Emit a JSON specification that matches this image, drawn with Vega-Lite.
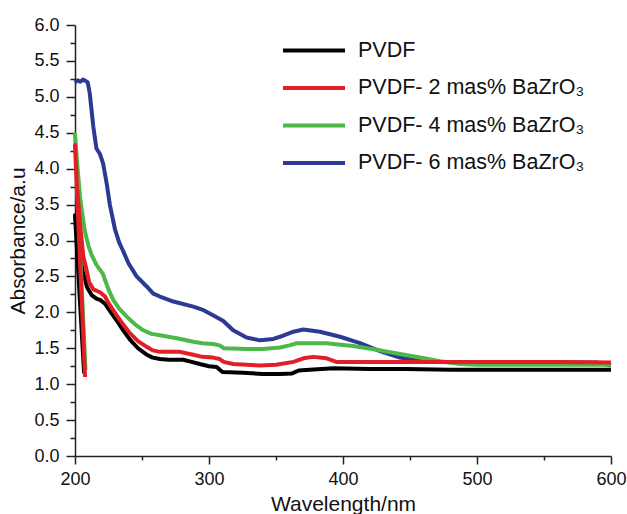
{
  "$schema": "https://vega.github.io/schema/vega-lite/v6.json",
  "width": 536,
  "height": 431,
  "autosize": {"type": "none"},
  "padding": {"left": 75, "top": 25, "right": 16, "bottom": 58},
  "background": "white",
  "config": {"view": {"stroke": null}, "font": "Liberation Sans"},
  "datasets": {
    "spectra": [
      {"sample": "PVDF", "wavelength": 206.8, "absorbance": 1.15},
      {"sample": "PVDF", "wavelength": 200, "absorbance": 3.35},
      {"sample": "PVDF", "wavelength": 203, "absorbance": 2.85},
      {"sample": "PVDF", "wavelength": 206, "absorbance": 2.55},
      {"sample": "PVDF", "wavelength": 209, "absorbance": 2.35},
      {"sample": "PVDF", "wavelength": 212.4, "absorbance": 2.24},
      {"sample": "PVDF", "wavelength": 216, "absorbance": 2.19},
      {"sample": "PVDF", "wavelength": 219, "absorbance": 2.17},
      {"sample": "PVDF", "wavelength": 222.4, "absorbance": 2.12},
      {"sample": "PVDF", "wavelength": 226, "absorbance": 2.02},
      {"sample": "PVDF", "wavelength": 231, "absorbance": 1.89},
      {"sample": "PVDF", "wavelength": 236, "absorbance": 1.75},
      {"sample": "PVDF", "wavelength": 241, "absorbance": 1.62},
      {"sample": "PVDF", "wavelength": 247, "absorbance": 1.5},
      {"sample": "PVDF", "wavelength": 253.5, "absorbance": 1.41},
      {"sample": "PVDF", "wavelength": 258, "absorbance": 1.37},
      {"sample": "PVDF", "wavelength": 263.4, "absorbance": 1.35},
      {"sample": "PVDF", "wavelength": 270, "absorbance": 1.34},
      {"sample": "PVDF", "wavelength": 280.8, "absorbance": 1.34},
      {"sample": "PVDF", "wavelength": 287, "absorbance": 1.31},
      {"sample": "PVDF", "wavelength": 293, "absorbance": 1.28},
      {"sample": "PVDF", "wavelength": 300, "absorbance": 1.25},
      {"sample": "PVDF", "wavelength": 305.7, "absorbance": 1.24},
      {"sample": "PVDF", "wavelength": 308, "absorbance": 1.2},
      {"sample": "PVDF", "wavelength": 310, "absorbance": 1.17},
      {"sample": "PVDF", "wavelength": 325.6, "absorbance": 1.16},
      {"sample": "PVDF", "wavelength": 340, "absorbance": 1.14},
      {"sample": "PVDF", "wavelength": 353, "absorbance": 1.14},
      {"sample": "PVDF", "wavelength": 362, "absorbance": 1.15},
      {"sample": "PVDF", "wavelength": 367, "absorbance": 1.19},
      {"sample": "PVDF", "wavelength": 375, "absorbance": 1.2},
      {"sample": "PVDF", "wavelength": 393, "absorbance": 1.22},
      {"sample": "PVDF", "wavelength": 420, "absorbance": 1.21},
      {"sample": "PVDF", "wavelength": 447, "absorbance": 1.21},
      {"sample": "PVDF", "wavelength": 480, "absorbance": 1.2},
      {"sample": "PVDF", "wavelength": 525, "absorbance": 1.2},
      {"sample": "PVDF", "wavelength": 600, "absorbance": 1.2},

      {"sample": "PVDF- 6 mas% BaZrO₃", "wavelength": 200, "absorbance": 5.2},
      {"sample": "PVDF- 6 mas% BaZrO₃", "wavelength": 202, "absorbance": 5.23},
      {"sample": "PVDF- 6 mas% BaZrO₃", "wavelength": 204, "absorbance": 5.21},
      {"sample": "PVDF- 6 mas% BaZrO₃", "wavelength": 206, "absorbance": 5.24},
      {"sample": "PVDF- 6 mas% BaZrO₃", "wavelength": 208, "absorbance": 5.22},
      {"sample": "PVDF- 6 mas% BaZrO₃", "wavelength": 209.5, "absorbance": 5.2},
      {"sample": "PVDF- 6 mas% BaZrO₃", "wavelength": 211, "absorbance": 5.05},
      {"sample": "PVDF- 6 mas% BaZrO₃", "wavelength": 213.7, "absorbance": 4.58},
      {"sample": "PVDF- 6 mas% BaZrO₃", "wavelength": 216, "absorbance": 4.28},
      {"sample": "PVDF- 6 mas% BaZrO₃", "wavelength": 218.7, "absorbance": 4.2},
      {"sample": "PVDF- 6 mas% BaZrO₃", "wavelength": 221, "absorbance": 4.07},
      {"sample": "PVDF- 6 mas% BaZrO₃", "wavelength": 223.6, "absorbance": 3.8},
      {"sample": "PVDF- 6 mas% BaZrO₃", "wavelength": 226, "absorbance": 3.5},
      {"sample": "PVDF- 6 mas% BaZrO₃", "wavelength": 229.9, "absorbance": 3.15},
      {"sample": "PVDF- 6 mas% BaZrO₃", "wavelength": 233, "absorbance": 2.97},
      {"sample": "PVDF- 6 mas% BaZrO₃", "wavelength": 236, "absorbance": 2.85},
      {"sample": "PVDF- 6 mas% BaZrO₃", "wavelength": 240, "absorbance": 2.68},
      {"sample": "PVDF- 6 mas% BaZrO₃", "wavelength": 246, "absorbance": 2.5},
      {"sample": "PVDF- 6 mas% BaZrO₃", "wavelength": 253.5, "absorbance": 2.36},
      {"sample": "PVDF- 6 mas% BaZrO₃", "wavelength": 258.4, "absorbance": 2.26},
      {"sample": "PVDF- 6 mas% BaZrO₃", "wavelength": 263.4, "absorbance": 2.22},
      {"sample": "PVDF- 6 mas% BaZrO₃", "wavelength": 273.4, "absorbance": 2.15},
      {"sample": "PVDF- 6 mas% BaZrO₃", "wavelength": 288.3, "absorbance": 2.08},
      {"sample": "PVDF- 6 mas% BaZrO₃", "wavelength": 296, "absorbance": 2.03},
      {"sample": "PVDF- 6 mas% BaZrO₃", "wavelength": 303, "absorbance": 1.96},
      {"sample": "PVDF- 6 mas% BaZrO₃", "wavelength": 310.7, "absorbance": 1.88},
      {"sample": "PVDF- 6 mas% BaZrO₃", "wavelength": 318, "absorbance": 1.75},
      {"sample": "PVDF- 6 mas% BaZrO₃", "wavelength": 328, "absorbance": 1.65},
      {"sample": "PVDF- 6 mas% BaZrO₃", "wavelength": 338, "absorbance": 1.61},
      {"sample": "PVDF- 6 mas% BaZrO₃", "wavelength": 348, "absorbance": 1.63},
      {"sample": "PVDF- 6 mas% BaZrO₃", "wavelength": 353, "absorbance": 1.66},
      {"sample": "PVDF- 6 mas% BaZrO₃", "wavelength": 363, "absorbance": 1.73},
      {"sample": "PVDF- 6 mas% BaZrO₃", "wavelength": 370.4, "absorbance": 1.76},
      {"sample": "PVDF- 6 mas% BaZrO₃", "wavelength": 382.8, "absorbance": 1.73},
      {"sample": "PVDF- 6 mas% BaZrO₃", "wavelength": 397.8, "absorbance": 1.66},
      {"sample": "PVDF- 6 mas% BaZrO₃", "wavelength": 412.7, "absorbance": 1.57},
      {"sample": "PVDF- 6 mas% BaZrO₃", "wavelength": 427.6, "absorbance": 1.46},
      {"sample": "PVDF- 6 mas% BaZrO₃", "wavelength": 442.5, "absorbance": 1.37},
      {"sample": "PVDF- 6 mas% BaZrO₃", "wavelength": 455, "absorbance": 1.33},
      {"sample": "PVDF- 6 mas% BaZrO₃", "wavelength": 470, "absorbance": 1.31},
      {"sample": "PVDF- 6 mas% BaZrO₃", "wavelength": 500, "absorbance": 1.3},
      {"sample": "PVDF- 6 mas% BaZrO₃", "wavelength": 590, "absorbance": 1.3},
      {"sample": "PVDF- 6 mas% BaZrO₃", "wavelength": 600, "absorbance": 1.26},

      {"sample": "PVDF- 4 mas% BaZrO₃", "wavelength": 207.8, "absorbance": 1.2},
      {"sample": "PVDF- 4 mas% BaZrO₃", "wavelength": 200, "absorbance": 4.48},
      {"sample": "PVDF- 4 mas% BaZrO₃", "wavelength": 201.5, "absorbance": 4.1},
      {"sample": "PVDF- 4 mas% BaZrO₃", "wavelength": 203.7, "absorbance": 3.61},
      {"sample": "PVDF- 4 mas% BaZrO₃", "wavelength": 206, "absorbance": 3.3},
      {"sample": "PVDF- 4 mas% BaZrO₃", "wavelength": 207.5, "absorbance": 3.12},
      {"sample": "PVDF- 4 mas% BaZrO₃", "wavelength": 210, "absorbance": 2.93},
      {"sample": "PVDF- 4 mas% BaZrO₃", "wavelength": 212.4, "absorbance": 2.8},
      {"sample": "PVDF- 4 mas% BaZrO₃", "wavelength": 216, "absorbance": 2.66},
      {"sample": "PVDF- 4 mas% BaZrO₃", "wavelength": 218.7, "absorbance": 2.59},
      {"sample": "PVDF- 4 mas% BaZrO₃", "wavelength": 221, "absorbance": 2.53},
      {"sample": "PVDF- 4 mas% BaZrO₃", "wavelength": 222.4, "absorbance": 2.45},
      {"sample": "PVDF- 4 mas% BaZrO₃", "wavelength": 225, "absorbance": 2.32},
      {"sample": "PVDF- 4 mas% BaZrO₃", "wavelength": 228.6, "absorbance": 2.17},
      {"sample": "PVDF- 4 mas% BaZrO₃", "wavelength": 233, "absorbance": 2.05},
      {"sample": "PVDF- 4 mas% BaZrO₃", "wavelength": 238.6, "absorbance": 1.94},
      {"sample": "PVDF- 4 mas% BaZrO₃", "wavelength": 245, "absorbance": 1.83},
      {"sample": "PVDF- 4 mas% BaZrO₃", "wavelength": 251, "absorbance": 1.75},
      {"sample": "PVDF- 4 mas% BaZrO₃", "wavelength": 257, "absorbance": 1.7},
      {"sample": "PVDF- 4 mas% BaZrO₃", "wavelength": 263.4, "absorbance": 1.68},
      {"sample": "PVDF- 4 mas% BaZrO₃", "wavelength": 275.9, "absorbance": 1.64},
      {"sample": "PVDF- 4 mas% BaZrO₃", "wavelength": 288.3, "absorbance": 1.59},
      {"sample": "PVDF- 4 mas% BaZrO₃", "wavelength": 295, "absorbance": 1.57},
      {"sample": "PVDF- 4 mas% BaZrO₃", "wavelength": 303, "absorbance": 1.56},
      {"sample": "PVDF- 4 mas% BaZrO₃", "wavelength": 308, "absorbance": 1.54},
      {"sample": "PVDF- 4 mas% BaZrO₃", "wavelength": 311, "absorbance": 1.5},
      {"sample": "PVDF- 4 mas% BaZrO₃", "wavelength": 328, "absorbance": 1.49},
      {"sample": "PVDF- 4 mas% BaZrO₃", "wavelength": 340, "absorbance": 1.49},
      {"sample": "PVDF- 4 mas% BaZrO₃", "wavelength": 353, "absorbance": 1.51},
      {"sample": "PVDF- 4 mas% BaZrO₃", "wavelength": 360, "absorbance": 1.54},
      {"sample": "PVDF- 4 mas% BaZrO₃", "wavelength": 365.4, "absorbance": 1.57},
      {"sample": "PVDF- 4 mas% BaZrO₃", "wavelength": 387.8, "absorbance": 1.57},
      {"sample": "PVDF- 4 mas% BaZrO₃", "wavelength": 398, "absorbance": 1.55},
      {"sample": "PVDF- 4 mas% BaZrO₃", "wavelength": 407.6, "absorbance": 1.53},
      {"sample": "PVDF- 4 mas% BaZrO₃", "wavelength": 425, "absorbance": 1.48},
      {"sample": "PVDF- 4 mas% BaZrO₃", "wavelength": 442.5, "absorbance": 1.42},
      {"sample": "PVDF- 4 mas% BaZrO₃", "wavelength": 457.5, "absorbance": 1.37},
      {"sample": "PVDF- 4 mas% BaZrO₃", "wavelength": 472.4, "absorbance": 1.32},
      {"sample": "PVDF- 4 mas% BaZrO₃", "wavelength": 487.3, "absorbance": 1.28},
      {"sample": "PVDF- 4 mas% BaZrO₃", "wavelength": 500, "absorbance": 1.27},
      {"sample": "PVDF- 4 mas% BaZrO₃", "wavelength": 600, "absorbance": 1.27},

      {"sample": "PVDF- 2 mas% BaZrO₃", "wavelength": 207.5, "absorbance": 1.1},
      {"sample": "PVDF- 2 mas% BaZrO₃", "wavelength": 200, "absorbance": 4.33},
      {"sample": "PVDF- 2 mas% BaZrO₃", "wavelength": 201.5, "absorbance": 3.75},
      {"sample": "PVDF- 2 mas% BaZrO₃", "wavelength": 203.7, "absorbance": 3.24},
      {"sample": "PVDF- 2 mas% BaZrO₃", "wavelength": 206.2, "absorbance": 2.78},
      {"sample": "PVDF- 2 mas% BaZrO₃", "wavelength": 208.5, "absorbance": 2.6},
      {"sample": "PVDF- 2 mas% BaZrO₃", "wavelength": 210.5, "absorbance": 2.42},
      {"sample": "PVDF- 2 mas% BaZrO₃", "wavelength": 213.7, "absorbance": 2.32},
      {"sample": "PVDF- 2 mas% BaZrO₃", "wavelength": 218.7, "absorbance": 2.28},
      {"sample": "PVDF- 2 mas% BaZrO₃", "wavelength": 222.4, "absorbance": 2.22},
      {"sample": "PVDF- 2 mas% BaZrO₃", "wavelength": 226, "absorbance": 2.1},
      {"sample": "PVDF- 2 mas% BaZrO₃", "wavelength": 231, "absorbance": 1.96},
      {"sample": "PVDF- 2 mas% BaZrO₃", "wavelength": 236, "absorbance": 1.83},
      {"sample": "PVDF- 2 mas% BaZrO₃", "wavelength": 241, "absorbance": 1.71},
      {"sample": "PVDF- 2 mas% BaZrO₃", "wavelength": 247, "absorbance": 1.6},
      {"sample": "PVDF- 2 mas% BaZrO₃", "wavelength": 253.5, "absorbance": 1.52},
      {"sample": "PVDF- 2 mas% BaZrO₃", "wavelength": 258, "absorbance": 1.47},
      {"sample": "PVDF- 2 mas% BaZrO₃", "wavelength": 263.4, "absorbance": 1.45},
      {"sample": "PVDF- 2 mas% BaZrO₃", "wavelength": 278.4, "absorbance": 1.45},
      {"sample": "PVDF- 2 mas% BaZrO₃", "wavelength": 283, "absorbance": 1.43},
      {"sample": "PVDF- 2 mas% BaZrO₃", "wavelength": 288.3, "absorbance": 1.41},
      {"sample": "PVDF- 2 mas% BaZrO₃", "wavelength": 295, "absorbance": 1.38},
      {"sample": "PVDF- 2 mas% BaZrO₃", "wavelength": 303, "absorbance": 1.37},
      {"sample": "PVDF- 2 mas% BaZrO₃", "wavelength": 308, "absorbance": 1.35},
      {"sample": "PVDF- 2 mas% BaZrO₃", "wavelength": 311, "absorbance": 1.31},
      {"sample": "PVDF- 2 mas% BaZrO₃", "wavelength": 318, "absorbance": 1.28},
      {"sample": "PVDF- 2 mas% BaZrO₃", "wavelength": 338, "absorbance": 1.26},
      {"sample": "PVDF- 2 mas% BaZrO₃", "wavelength": 350, "absorbance": 1.27},
      {"sample": "PVDF- 2 mas% BaZrO₃", "wavelength": 363, "absorbance": 1.31},
      {"sample": "PVDF- 2 mas% BaZrO₃", "wavelength": 370.4, "absorbance": 1.36},
      {"sample": "PVDF- 2 mas% BaZrO₃", "wavelength": 377.8, "absorbance": 1.38},
      {"sample": "PVDF- 2 mas% BaZrO₃", "wavelength": 387.8, "absorbance": 1.36},
      {"sample": "PVDF- 2 mas% BaZrO₃", "wavelength": 395, "absorbance": 1.31},
      {"sample": "PVDF- 2 mas% BaZrO₃", "wavelength": 420, "absorbance": 1.31},
      {"sample": "PVDF- 2 mas% BaZrO₃", "wavelength": 500, "absorbance": 1.31},
      {"sample": "PVDF- 2 mas% BaZrO₃", "wavelength": 560, "absorbance": 1.31},
      {"sample": "PVDF- 2 mas% BaZrO₃", "wavelength": 600, "absorbance": 1.3}
    ]
  },
  "data": {"name": "spectra"},
  "mark": {"type": "line", "strokeWidth": 4, "strokeJoin": "round"},
  "encoding": {
    "x": {
      "field": "wavelength",
      "type": "quantitative",
      "scale": {"domain": [200, 600], "nice": false, "zero": false},
      "axis": {
        "title": "Wavelength/nm",
        "values": [200, 250, 300, 350, 400, 450, 500, 550, 600],
        "labelExpr": "datum.value % 100 === 0 ? datum.label : ''",
        "tickSize": {"condition": {"test": "datum.value % 100 === 0", "value": 8}, "value": 4},
        "grid": false,
        "labelFlush": false,
        "domainColor": "#222222",
        "domainWidth": 1.5,
        "tickColor": "#222222",
        "tickWidth": 1.5,
        "labelFontSize": 18,
        "labelColor": "#111111",
        "labelPadding": 6,
        "titleFontSize": 21,
        "titleFontWeight": "normal",
        "titleColor": "#111111",
        "titlePadding": 5
      }
    },
    "y": {
      "field": "absorbance",
      "type": "quantitative",
      "scale": {"domain": [0, 6], "nice": false},
      "axis": {
        "title": "Absorbance/a.u",
        "values": [0, 0.25, 0.5, 0.75, 1, 1.25, 1.5, 1.75, 2, 2.25, 2.5, 2.75, 3, 3.25, 3.5, 3.75, 4, 4.25, 4.5, 4.75, 5, 5.25, 5.5, 5.75, 6],
        "labelExpr": "round(datum.value * 4) % 2 === 0 ? format(datum.value, '.1f') : ''",
        "tickSize": {"condition": {"test": "round(datum.value * 4) % 2 === 0", "value": 9}, "value": 5},
        "grid": false,
        "domainColor": "#222222",
        "domainWidth": 1.5,
        "tickColor": "#222222",
        "tickWidth": 1.5,
        "labelFontSize": 18,
        "labelColor": "#111111",
        "labelPadding": 7,
        "titleFontSize": 21,
        "titleFontWeight": "normal",
        "titleColor": "#111111",
        "titlePadding": 5
      }
    },
    "color": {
      "field": "sample",
      "type": "nominal",
      "scale": {
        "domain": ["PVDF", "PVDF- 2 mas% BaZrO₃", "PVDF- 4 mas% BaZrO₃", "PVDF- 6 mas% BaZrO₃"],
        "range": ["#000000", "#e41e25", "#4cb84a", "#2d3a94"]
      },
      "legend": {
        "title": null,
        "orient": "none",
        "legendX": 206,
        "legendY": 13,
        "symbolType": "stroke",
        "symbolSize": 3844,
        "symbolStrokeWidth": 4,
        "clipHeight": 25,
        "labelFontSize": 21.5,
        "labelColor": "#111111",
        "labelOffset": 11,
        "rowPadding": 12.5,
        "labelLimit": 400
      }
    },
    "order": {"value": null}
  }
}
